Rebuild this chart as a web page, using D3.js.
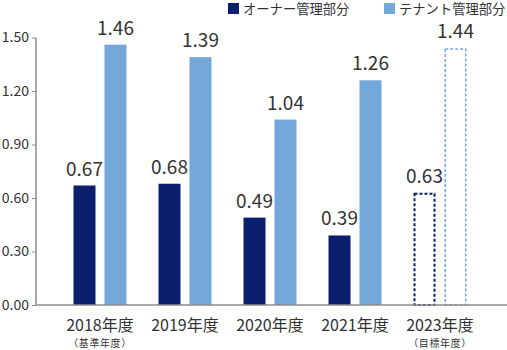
<!DOCTYPE html>
<html><head><meta charset="utf-8">
<script src="https://cdn.jsdelivr.net/npm/d3@7"></script>
<style>
html,body{margin:0;padding:0;background:#fff;}
svg{display:block;font-family:"Noto Sans CJK JP","Noto Sans",sans-serif;}
</style></head>
<body><svg id="c" width="507" height="350"></svg>
<script>
const categories = ["2018年度","2019年度","2020年度","2021年度","2023年度"];
const subLabels = ["（基準年度）","","","","（目標年度）"];
const seriesNames = ["オーナー管理部分","テナント管理部分"];
const ownerValues = [0.67,0.68,0.49,0.39,0.63];
const tenantValues = [1.46,1.39,1.04,1.26,1.44];
const dashedFlags = [false,false,false,false,true];
const yTicks = [0,0.3,0.6,0.9,1.2,1.5];
const colors = ["#0b1f6e","#74a7da"];

const svg = d3.select("#c");
const y = d3.scaleLinear().domain([0,1.5]).range([305,37.5]);
const x0 = d3.scaleBand().domain(categories).range([57.5,482.5]).padding(0);
const x1 = d3.scaleBand().domain(seriesNames).range([0,53]).paddingInner(0.29).paddingOuter(0);
const off = (x0.bandwidth()-53)/2;

// y axis
const yAxis = d3.axisLeft(y).tickValues(yTicks).tickFormat(d3.format(".2f")).tickSize(4).tickPadding(3);
const gy = svg.append("g").attr("transform","translate(36,0)").call(yAxis);
gy.select(".domain").attr("stroke","#8c8c8c").attr("stroke-width",1.5).attr("d","M0,"+y(1.5)+"V"+y(0));
gy.selectAll(".tick line").attr("stroke","#8c8c8c").attr("stroke-width",1);
gy.selectAll(".tick text").attr("fill","#333").style("font-size","14px").style("font-family","'Noto Sans CJK JP',sans-serif");

const data = categories.map((c,i)=>({cat:c,sub:subLabels[i],dashed:dashedFlags[i],vals:[ownerValues[i],tenantValues[i]]}));

const groups = svg.selectAll("g.grp").data(data).enter().append("g").attr("class","grp")
  .attr("transform",d=>"translate("+(x0(d.cat)+off)+",0)");

groups.each(function(d){
  const g = d3.select(this);
  d.vals.forEach((v,k)=>{
    const s = seriesNames[k];
    if(!d.dashed){
      g.append("rect").attr("x",x1(s)).attr("y",y(v)).attr("width",x1.bandwidth()).attr("height",y(0)-y(v)).attr("fill",colors[k]);
    } else {
      const sw = k===0?2:1.5;
      g.append("rect").attr("x",x1(s)+sw/2).attr("y",y(v)+sw/2).attr("width",x1.bandwidth()-sw).attr("height",y(0)-y(v)-sw/2)
        .attr("fill","none").attr("stroke",colors[k]).attr("stroke-width",sw).attr("stroke-dasharray","3,2");
    }
    g.append("text").attr("x",x1(s)+x1.bandwidth()/2).attr("y",y(v)-10).attr("text-anchor","middle")
      .attr("fill","#333").style("font-size","19px").text(d3.format(".2f")(v));
  });
});

// baseline
svg.append("line").attr("x1",36).attr("x2",507).attr("y1",y(0)).attr("y2",y(0)).attr("stroke","#8c8c8c").attr("stroke-width",1.5);

// category labels
const lab = svg.selectAll("g.lab").data(data).enter().append("g").attr("class","lab");
lab.append("text").attr("x",d=>x0(d.cat)+x0.bandwidth()/2).attr("y",330.5).attr("text-anchor","middle")
  .attr("fill","#333").style("font-size","16px").text(d=>d.cat);
lab.append("text").attr("x",d=>x0(d.cat)+x0.bandwidth()/2).attr("y",347).attr("text-anchor","middle")
  .attr("fill","#333").style("font-size","10px").style("letter-spacing","0.6px").text(d=>d.sub);

// legend
const legX = [228,384];
seriesNames.forEach((s,k)=>{
  svg.append("rect").attr("x",legX[k]).attr("y",3).attr("width",11).attr("height",11).attr("fill",colors[k]);
  svg.append("text").attr("x",legX[k]+15).attr("y",14).attr("fill","#333").style("font-size","13.3px").text(s);
});
</script></body></html>
